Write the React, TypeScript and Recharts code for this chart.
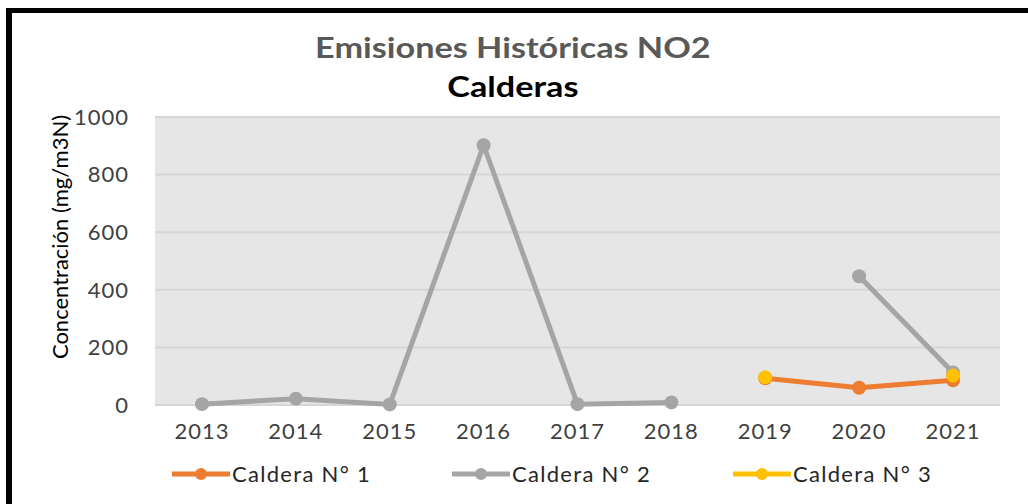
import React from 'react';
import { LineChart, Line, XAxis, YAxis, CartesianGrid } from 'recharts';

const years = ['2013', '2014', '2015', '2016', '2017', '2018', '2019', '2020', '2021'];
const caldera1 = [null, null, null, null, null, null, 93, 60, 86];
const caldera2 = [3, 22, 2, 902, 3, 9, null, 447, 113];
const caldera3 = [null, null, null, null, null, null, 96, null, 102];
const yTicks = [0, 200, 400, 600, 800, 1000];

const series = [
  { key: 'c1', name: 'Caldera N° 1', color: '#ED7D31', values: caldera1 },
  { key: 'c2', name: 'Caldera N° 2', color: '#A5A5A5', values: caldera2 },
  { key: 'c3', name: 'Caldera N° 3', color: '#FFC000', values: caldera3 },
];

const data = years.map((year, i) => ({
  year,
  c1: caldera1[i],
  c2: caldera2[i],
  c3: caldera3[i],
}));

const FONT = 'Lato, "Open Sans", sans-serif';

const legendX = [170, 450, 731];

function CustomLegend() {
  return (
    <div style={{ position: 'absolute', left: 0, top: 460, height: 24, width: 1028 }}>
      {series.map((s, i) => (
        <div
          key={s.key}
          style={{ position: 'absolute', left: legendX[i], top: 0, display: 'flex', alignItems: 'center' }}
        >
          <svg width={60} height={24}>
            <line x1={2} y1={12} x2={60} y2={12} stroke={s.color} strokeWidth={5} />
            <circle cx={31} cy={12} r={6} fill={s.color} />
          </svg>
          <span style={{ fontFamily: FONT, fontSize: 22, letterSpacing: 1.3, color: '#262626', marginLeft: 2 }}>
            {s.name}
          </span>
        </div>
      ))}
    </div>
  );
}

// y-axis title sits a bit above the plot's vertical centre, as in the original
const YTitle = (props: any) => {
  const { viewBox } = props;
  const x = viewBox.x + 4;
  const y = viewBox.y + viewBox.height / 2 - 24;
  return (
    <text
      x={x}
      y={y}
      transform={`rotate(-90 ${x} ${y})`}
      textAnchor="middle"
      dominantBaseline="central"
      fill="#000"
      fontSize={22}
      fontFamily={FONT}
    >
      Concentración (mg/m3N)
    </text>
  );
};

const titleStyle: React.CSSProperties = {
  position: 'absolute',
  width: 1028,
  textAlign: 'center',
  fontFamily: FONT,
  fontWeight: 700,
  fontSize: 29,
  transform: 'scaleX(1.18)',
  transformOrigin: '520px 0',
};

export default function App() {
  return (
    <div style={{ position: 'absolute', left: 0, top: 0, width: 1028, height: 504, background: '#fff', overflow: 'hidden' }}>
      <div
        style={{
          position: 'absolute',
          left: 6,
          top: 8,
          width: 1100,
          height: 600,
          borderTop: '5px solid #000',
          borderLeft: '6px solid #000',
        }}
      />
      <div style={{ ...titleStyle, top: 29, color: '#595959' }}>Emisiones Históricas NO2</div>
      <div style={{ ...titleStyle, top: 68, color: '#000' }}>Calderas</div>
      <div style={{ position: 'absolute', left: 0, top: 0 }}>
        <LineChart
          width={1028}
          height={504}
          data={data}
          margin={{ top: 117, right: 28, bottom: 69, left: 55 }}
        >
          <CartesianGrid
            vertical={false}
            fill="#e6e6e6"
            stroke="#d6d6d6"
            strokeWidth={2}
          />
          <XAxis
            dataKey="year"
            padding={{ left: 47, right: 47 }}
            axisLine={false}
            tickLine={false}
            tickSize={0}
            tickMargin={18}
            tick={{ fill: '#404040', fontSize: 22, fontFamily: FONT, letterSpacing: 1 }}
            interval={0}
          />
          <YAxis
            width={100}
            domain={[0, 1000]}
            ticks={yTicks}
            axisLine={false}
            tickLine={false}
            tickSize={0}
            tickMargin={26}
            tick={{ fill: '#404040', fontSize: 22, fontFamily: FONT, letterSpacing: 1 }}
            label={{ content: <YTitle />, position: 'insideLeft' }}
          />
          {series.map((s) => (
            <Line
              key={s.key}
              dataKey={s.key}
              name={s.name}
              stroke={s.color}
              strokeWidth={5}
              dot={{ r: 7, fill: s.color, stroke: s.color, strokeWidth: 0 }}
              activeDot={false}
              connectNulls={false}
              isAnimationActive={false}
            />
          ))}
        </LineChart>
      </div>
      <CustomLegend />
    </div>
  );
}
